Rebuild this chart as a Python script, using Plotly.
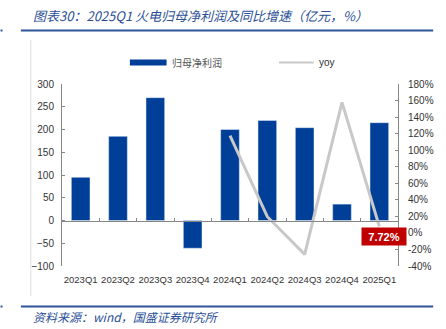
import plotly.graph_objects as go

categories = ["2023Q1", "2023Q2", "2023Q3", "2023Q4", "2024Q1", "2024Q2", "2024Q3", "2024Q4", "2025Q1"]
profit = [95, 185, 270, -61, 200, 220, 204, 36, 215]
yoy = [None, None, None, None, 117.5, 19.6, -25.9, 157.8, 7.72]
left_ticks = [-100, -50, 0, 50, 100, 150, 200, 250, 300]
right_ticks = [-40, -20, 0, 20, 40, 60, 80, 100, 120, 140, 160, 180]
right_labels = [f"{v}%" for v in right_ticks]
title_text = "图表30：2025Q1 火电归母净利润及同比增速（亿元，%）"
source_text = "资料来源：wind，国盛证券研究所"
bar_name = "归母净利润"
line_name = "yoy"
last_label = "7.72%"

W, H = 446, 329
L, R, T, B = 62, 401, 84, 266
pw, ph = R - L, B - T

def px(x):
    return (x - L) / pw

def py(y):
    return (B - y) / ph

BLUE = "#003f98"
GRAY_LINE = "#c8c8c8"
AXIS = "#868686"
TXT = "#333333"
TITLE_BLUE = "#2a4f96"
TICKFONT = dict(family="Liberation Sans, Arial, sans-serif", size=10, color=TXT)
XTICKFONT = dict(family="Liberation Sans, Arial, sans-serif", size=9.5, color=TXT)

fig = go.Figure()
fig.add_trace(go.Bar(x=categories, y=profit, name=bar_name, marker_color=BLUE,
                     width=0.5, yaxis="y", xaxis="x", showlegend=False))
fig.add_trace(go.Scatter(x=categories, y=yoy, name=line_name, mode="lines",
                         line=dict(color=GRAY_LINE, width=3), yaxis="y2", xaxis="x",
                         showlegend=False))
# invisible trace to carry categories on zero-line axis
fig.add_trace(go.Scatter(x=categories, y=[0] * len(categories), mode="markers",
                         marker=dict(opacity=0), xaxis="x2", yaxis="y",
                         hoverinfo="skip", showlegend=False))

zero_pos = (0 - left_ticks[0]) / (left_ticks[-1] - left_ticks[0])

fig.update_layout(
    width=W, height=H,
    margin=dict(l=L, r=W - R, t=T, b=H - B),
    paper_bgcolor="white", plot_bgcolor="white",
    bargap=0.5,
    xaxis=dict(type="category", categoryorder="array", categoryarray=categories,
               range=[-0.5, len(categories) - 0.5], showline=False, ticks="",
               tickangle=0, ticklabelstandoff=6,
               tickfont=XTICKFONT, showgrid=False, zeroline=False),
    xaxis2=dict(type="category", categoryorder="array", categoryarray=categories,
                range=[-0.5, len(categories) - 0.5], overlaying="x", anchor="free",
                position=zero_pos,
                side="bottom", showline=True, linecolor=AXIS, linewidth=1,
                ticks="inside", ticklen=3, tickcolor=AXIS, tickson="boundaries",
                showticklabels=False, showgrid=False, zeroline=False),
    yaxis=dict(range=[left_ticks[0], left_ticks[-1]], tickvals=left_ticks,
               showline=True, linecolor=AXIS, ticks="inside", ticklen=3, tickcolor=AXIS,
               ticklabelstandoff=5,
               tickfont=TICKFONT, showgrid=False, zeroline=False),
    yaxis2=dict(range=[right_ticks[0], right_ticks[-1]], tickvals=right_ticks,
                ticktext=right_labels, overlaying="y", side="right", anchor="x",
                showline=True, linecolor=AXIS, ticks="inside", ticklen=3, tickcolor=AXIS,
                ticklabelstandoff=7,
                tickfont=TICKFONT, showgrid=False, zeroline=False),
)

shapes = []
ann = []
# title & source
ann.append(dict(text=title_text, xref="paper", yref="paper", x=px(31), y=py(15),
                xanchor="left", yanchor="middle", showarrow=False,
                font=dict(family="Noto Sans CJK SC", size=13, color=TITLE_BLUE, style="italic")))
ann.append(dict(text=source_text, xref="paper", yref="paper", x=px(31), y=py(316),
                xanchor="left", yanchor="middle", showarrow=False,
                font=dict(family="Noto Sans CJK SC", size=12, color=TITLE_BLUE, style="italic")))
for yy in (30.5, 306.5):
    shapes.append(dict(type="line", xref="paper", yref="paper", x0=px(20.5), x1=px(436.5),
                       y0=py(yy), y1=py(yy), line=dict(color="#2e5597", width=2)))
    shapes.append(dict(type="line", xref="paper", yref="paper", x0=px(0), x1=px(2),
                       y0=py(yy), y1=py(yy), line=dict(color="#2e5597", width=2)))
shapes.append(dict(type="line", xref="paper", yref="paper", x0=px(30.5), x1=px(30.5),
                   y0=py(40), y1=py(296), line=dict(color="#e0e0e0", width=1)))
# legend
shapes.append(dict(type="rect", xref="paper", yref="paper", x0=px(130.5), x1=px(167.5),
                   y0=py(65.5), y1=py(59.5), fillcolor=BLUE, line=dict(width=0)))
ann.append(dict(text=bar_name, xref="paper", yref="paper", x=px(171), y=py(62.5),
                xanchor="left", yanchor="middle", showarrow=False,
                font=dict(family="Noto Sans CJK SC", size=10, color="#555555")))
shapes.append(dict(type="line", xref="paper", yref="paper", x0=px(281), x1=px(316),
                   y0=py(62.5), y1=py(62.5), line=dict(color=GRAY_LINE, width=2)))
ann.append(dict(text=line_name, xref="paper", yref="paper", x=px(319), y=py(62.5),
                xanchor="left", yanchor="middle", showarrow=False,
                font=dict(family="Liberation Sans, Arial, sans-serif", size=10, color=TXT)))
# data label
ann.append(dict(text="<b>" + last_label + "</b>", x=categories[-1], y=yoy[-1], xref="x", yref="y2",
                xanchor="center", yanchor="top", xshift=5, yshift=0, showarrow=False,
                bgcolor="#c00000", width=42, height=15, borderpad=1,
                font=dict(family="Liberation Sans, Arial, sans-serif", size=11, color="white")))

fig.update_layout(shapes=shapes, annotations=ann)
fig.write_html("out.html")
